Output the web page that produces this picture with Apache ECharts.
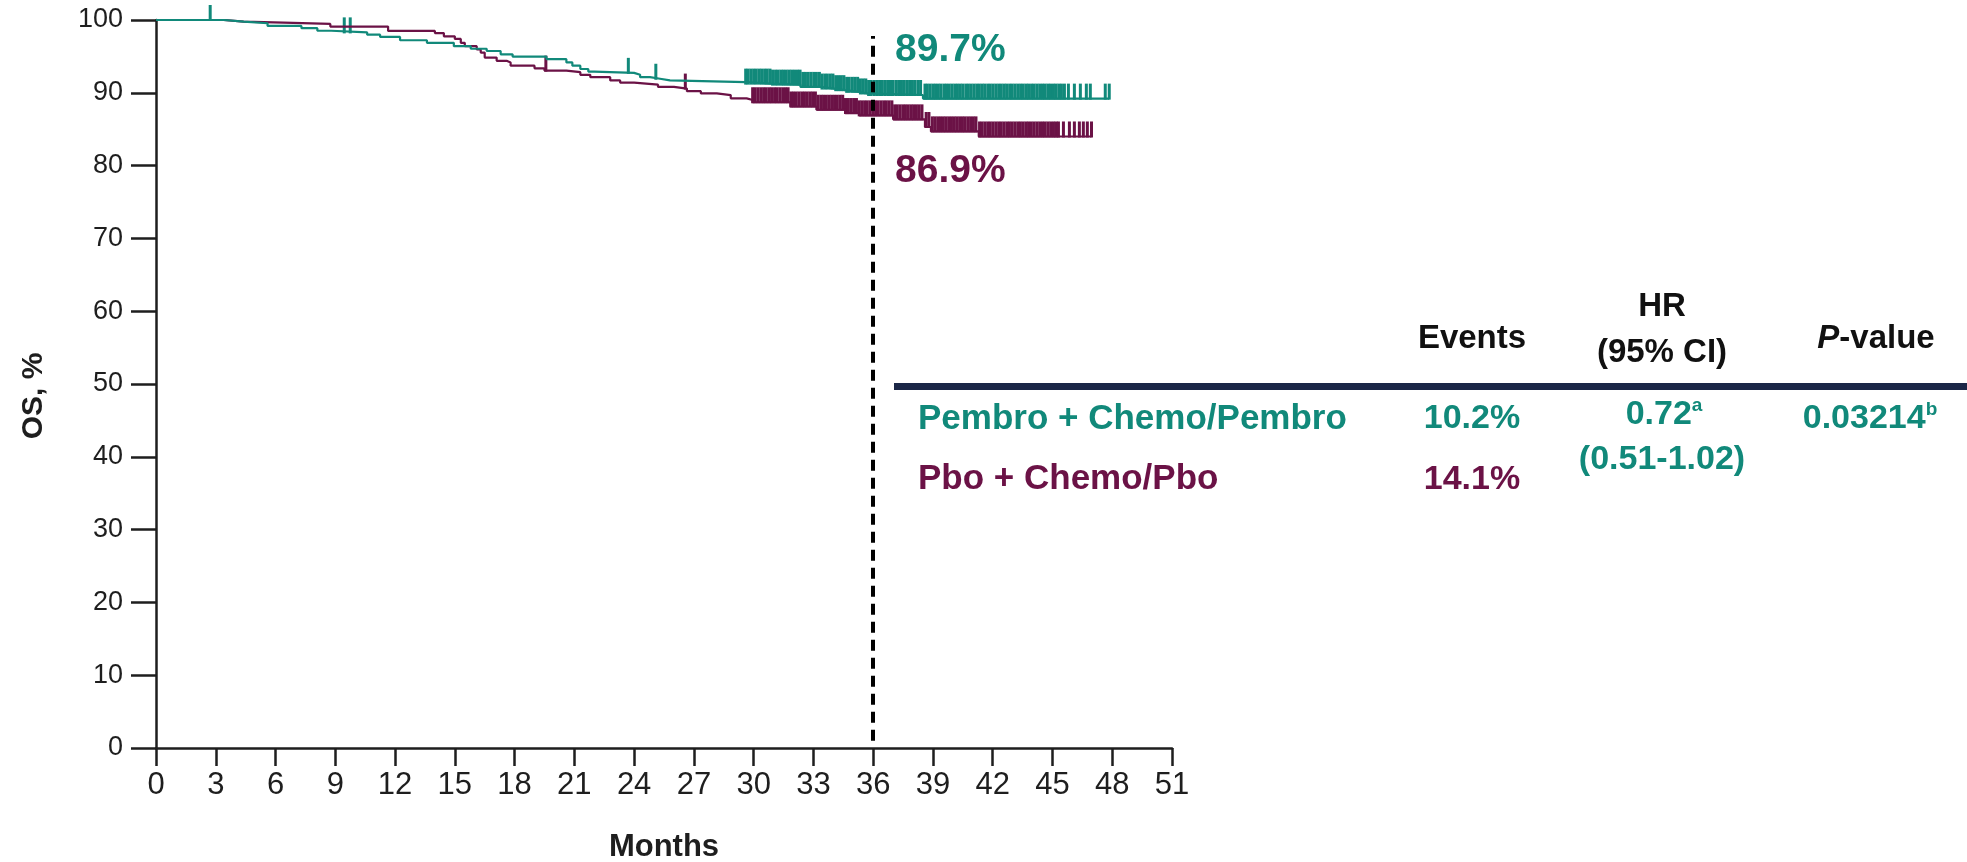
<!DOCTYPE html>
<html>
<head>
<meta charset="utf-8">
<script src="https://cdn.jsdelivr.net/npm/echarts@6/dist/echarts.min.js"></script>
<style>
  html, body { margin: 0; padding: 0; background: #ffffff; }
  #chart { width: 1967px; height: 862px; }
</style>
</head>
<body>
<div id="chart"></div>
<script>
// Kaplan-Meier overall survival, two arms.
// Step lists: [month, OS %] — survival becomes the value at that month.
const pembroSteps = [
  [0, 100], [3.4, 99.78], [4.4, 99.55], [5.6, 99.19], [7.3, 98.88], [8.1, 98.52],
  [8.8, 98.30], [10.6, 97.98], [11.25, 97.67], [12.25, 97.22], [13.6, 96.86],
  [14.95, 96.41], [15.8, 96.05], [16.6, 95.74], [17.3, 95.29], [17.9, 94.98],
  [19.6, 94.62], [20.6, 94.17], [20.9, 93.72], [21.3, 93.27], [21.7, 92.91],
  [22.0, 92.74], [24.0, 92.47], [24.3, 92.15], [24.8, 91.93], [25.3, 91.70],
  [25.8, 91.48], [29.6, 91.26], [30.85, 91.12], [32.35, 90.81], [33.35, 90.58],
  [34.05, 90.36], [34.6, 90.13], [35.3, 89.91], [35.7, 89.7], [38.5, 89.2]
];
const pboSteps = [
  [0, 100], [3.4, 99.78], [4.4, 99.64], [6.4, 99.46], [8.75, 99.10], [11.65, 98.50],
  [14.0, 98.21], [14.45, 97.76], [15.0, 97.40], [15.3, 96.86], [15.5, 96.41],
  [16.1, 95.96], [16.3, 95.52], [16.5, 94.84], [17.1, 94.39], [17.6, 94.17],
  [17.8, 93.72], [19.0, 93.36], [19.5, 93.05], [20.6, 92.83], [21.3, 92.47],
  [21.8, 92.15], [22.8, 91.70], [23.3, 91.39], [24.0, 91.12], [25.2, 90.81],
  [26.0, 90.58], [26.65, 90.22], [27.35, 89.91], [28.15, 89.69], [28.85, 89.24],
  [29.65, 89.01], [29.95, 88.70], [31.85, 88.12], [33.15, 87.67], [34.6, 87.22],
  [35.3, 86.9], [37.0, 86.35], [38.6, 85.3], [38.9, 84.7], [41.3, 84.0]
];
// Last follow-up month of each arm
const pembroLastMonth = 47.85;
const pboLastMonth = 46.96;

// Censoring times (months)
const pembroCensored = [
  2.72, 9.45, 9.75, 23.71, 25.09,
  29.6, 29.72, 29.86, 30.0, 30.13, 30.27, 30.4, 30.55, 30.68, 30.82, 30.95, 31.1,
  31.23, 31.37, 31.5, 31.64, 31.78, 31.91, 32.05, 32.2, 32.33, 32.47, 32.6, 32.74,
  32.88, 33.02, 33.15, 33.3, 33.43, 33.57, 33.7, 33.85, 33.98, 34.12, 34.26, 34.4,
  34.53, 34.67, 34.8, 34.95, 35.08, 35.22, 35.36, 35.5, 35.63, 35.77, 35.9, 36.05,
  36.18, 36.32, 36.46, 36.6, 36.73, 36.87, 37.0, 37.15, 37.28, 37.42, 37.56, 37.7,
  37.83, 37.97, 38.1, 38.25, 38.38, 38.6, 38.72, 38.86, 39.0, 39.13, 39.27, 39.4,
  39.55, 39.68, 39.82, 39.96, 40.1, 40.23, 40.37, 40.5, 40.65, 40.78, 40.92, 41.06,
  41.2, 41.33, 41.47, 41.6, 41.75, 41.88, 42.02, 42.16, 42.3, 42.43, 42.57, 42.7,
  42.85, 42.98, 43.12, 43.26, 43.4, 43.53, 43.67, 43.8, 43.95, 44.08, 44.22, 44.36,
  44.5, 44.63, 44.77, 44.9, 45.05, 45.18, 45.32, 45.45,
  45.6, 45.8, 46.1, 46.4, 46.7, 46.9, 47.65, 47.85
];
const pboCensored = [
  19.57, 26.57,
  29.95, 30.08, 30.22, 30.36, 30.5, 30.63, 30.77, 30.9, 31.05, 31.18, 31.32, 31.46,
  31.6, 31.73, 31.87, 32.0, 32.14, 32.28, 32.42, 32.55, 32.69, 32.83, 32.96, 33.1,
  33.24, 33.38, 33.51, 33.65, 33.79, 33.92, 34.06, 34.2, 34.34, 34.47, 34.61, 34.75,
  34.88, 35.02, 35.16, 35.3, 35.43, 35.57, 35.7, 35.84, 35.98, 36.12, 36.25, 36.39,
  36.53, 36.66, 36.8, 36.94, 37.08, 37.21, 37.35, 37.49, 37.62, 37.76, 37.9, 38.03,
  38.17, 38.31, 38.45, 38.66, 38.8, 38.97, 39.1, 39.24, 39.38, 39.52, 39.65, 39.79,
  39.93, 40.07, 40.2, 40.34, 40.48, 40.61, 40.75, 40.89, 41.03, 41.16, 41.34, 41.47,
  41.61, 41.75, 41.88, 42.02, 42.16, 42.3, 42.43, 42.57, 42.71, 42.84, 42.98, 43.12,
  43.26, 43.39, 43.53, 43.67, 43.8, 43.94, 44.08, 44.22, 44.36, 44.5, 44.63, 44.77,
  44.91, 45.05, 45.18, 45.3,
  45.55, 45.85, 46.1, 46.35, 46.55, 46.75, 46.96
];

// Landmark month and summary table
const landmarkMonth = 36;
const armNames = ['Pembro + Chemo/Pembro', 'Pbo + Chemo/Pbo'];
const eventRates = ['10.2%', '14.1%'];
const hazardRatio = '0.72';
const hazardRatioCI = '(0.51-1.02)';
const pValue = '0.03214';
const tableHeaders = ['Events', 'HR', '(95% CI)', 'P', '-value'];

// Axis ranges
const monthAxis = { min: 0, max: 51, interval: 3 };
const osAxis = { min: 0, max: 100, interval: 10 };

const TEAL = '#11897a';
const PURPLE = '#6b1246';
const FONT = '"Liberation Sans", Arial, sans-serif';

function survivalAt(steps, t) {
  let v = steps[0][1];
  for (const [m, s] of steps) { if (m <= t) v = s; else break; }
  return v;
}

function curveData(steps, last) {
  return steps.concat([[last, steps[steps.length - 1][1]]]);
}

function censorSeries(times, steps, color) {
  return {
    type: 'custom',
    data: times.map(t => [t, survivalAt(steps, t)]),
    encode: { x: 0, y: 1 },
    silent: true,
    z: 3,
    renderItem: function (params, api) {
      const p = api.coord([api.value(0), api.value(1)]);
      return {
        type: 'line',
        shape: { x1: p[0], y1: p[1] + 1, x2: p[0], y2: p[1] - 15 },
        style: { stroke: color, lineWidth: 3 }
      };
    }
  };
}

const chart = echarts.init(document.getElementById('chart'), null, { renderer: 'canvas' });

const pembroLandmark = survivalAt(pembroSteps, landmarkMonth).toFixed(1) + '%';
const pboLandmark = survivalAt(pboSteps, landmarkMonth).toFixed(1) + '%';

function label(text, x, y, size, fill, align) {
  return {
    type: 'text', x: x, y: y,
    style: {
      text: text, fontFamily: FONT, fontWeight: 'bold', fontSize: size, fill: fill,
      align: align || 'center', verticalAlign: 'middle'
    }
  };
}

function supLabel(main, sup, x, y, fill) {
  return {
    type: 'text', x: x, y: y,
    style: {
      text: '{n|' + main + '}{s|' + sup + '}', align: 'center', verticalAlign: 'middle',
      rich: {
        n: { fontFamily: FONT, fontWeight: 'bold', fontSize: 34, fill: fill, lineHeight: 38 },
        s: { fontFamily: FONT, fontWeight: 'bold', fontSize: 19, fill: fill, lineHeight: 20, verticalAlign: 'top' }
      }
    }
  };
}

chart.setOption({
  animation: false,
  backgroundColor: '#ffffff',
  grid: { left: 156, right: 795, top: 20, bottom: 114, containLabel: false },
  xAxis: {
    type: 'value',
    min: monthAxis.min, max: monthAxis.max, interval: monthAxis.interval,
    axisLine: { show: true, onZero: false, lineStyle: { color: '#1e1e1e', width: 2.5 } },
    axisTick: { show: true, length: 18, lineStyle: { color: '#1e1e1e', width: 2.5 } },
    axisLabel: { fontFamily: FONT, fontSize: 31, color: '#1e1e1e', margin: 22 },
    splitLine: { show: false }
  },
  yAxis: {
    type: 'value',
    min: osAxis.min, max: osAxis.max, interval: osAxis.interval,
    axisLine: { show: true, onZero: false, lineStyle: { color: '#1e1e1e', width: 2.5 } },
    axisTick: { show: true, length: 25, lineStyle: { color: '#1e1e1e', width: 2.5 } },
    axisLabel: { fontFamily: FONT, fontSize: 27, color: '#1e1e1e', margin: 33 },
    splitLine: { show: false }
  },
  series: [
    {
      type: 'line', step: 'end', showSymbol: false, z: 4,
      data: curveData(pboSteps, pboLastMonth),
      lineStyle: { color: PURPLE, width: 2.2 }
    },
    {
      type: 'line', step: 'end', showSymbol: false, z: 5,
      data: curveData(pembroSteps, pembroLastMonth),
      lineStyle: { color: TEAL, width: 2.2 },
      markLine: {
        silent: true, symbol: 'none', label: { show: false },
        lineStyle: { color: '#000000', width: 4, type: [11, 7] },
        data: [[{ coord: [landmarkMonth, 1] }, { coord: [landmarkMonth, 97.8] }]]
      }
    },
    censorSeries(pboCensored, pboSteps, PURPLE),
    censorSeries(pembroCensored, pembroSteps, TEAL)
  ],
  graphic: [
    // axis titles
    { type: 'text', x: 34, y: 396, rotation: Math.PI / 2,
      style: { text: 'OS, %', fontFamily: FONT, fontWeight: 'bold', fontSize: 30, fill: '#1e1e1e',
               align: 'center', verticalAlign: 'middle' } },
    label('Months', 664, 847, 31, '#1e1e1e'),
    // landmark values at month 36
    label(pembroLandmark, 895, 50, 39, TEAL, 'left'),
    label(pboLandmark, 895, 171, 39, PURPLE, 'left'),
    // table header
    label(tableHeaders[0], 1472, 339, 33, '#111111'),
    label(tableHeaders[1], 1662, 307, 33, '#111111'),
    label(tableHeaders[2], 1662, 353, 33, '#111111'),
    { type: 'text', x: 1876, y: 339,
      style: {
        text: '{i|' + tableHeaders[3] + '}{r|' + tableHeaders[4] + '}',
        align: 'center', verticalAlign: 'middle',
        rich: {
          i: { fontFamily: FONT, fontWeight: 'bold', fontStyle: 'italic', fontSize: 33, fill: '#111111' },
          r: { fontFamily: FONT, fontWeight: 'bold', fontSize: 33, fill: '#111111' }
        }
      } },
    // header rule
    { type: 'rect', shape: { x: 894, y: 383, width: 1073, height: 7 },
      style: { fill: '#1b2747' } },
    // rows
    label(armNames[0], 918, 419, 35, TEAL, 'left'),
    label(armNames[1], 918, 479, 35, PURPLE, 'left'),
    label(eventRates[0], 1472, 419, 34, TEAL),
    label(eventRates[1], 1472, 480, 34, PURPLE),
    supLabel(hazardRatio, 'a', 1664, 415, TEAL),
    label(hazardRatioCI, 1662, 460, 34, TEAL),
    supLabel(pValue, 'b', 1870, 419, TEAL)
  ]
});
</script>
</body>
</html>
